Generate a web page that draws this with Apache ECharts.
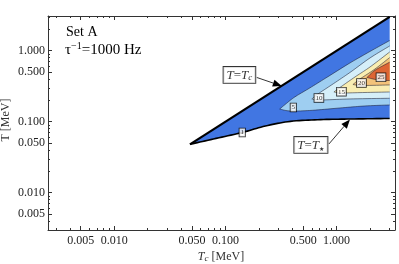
<!DOCTYPE html>
<html><head><meta charset="utf-8">
<script src="https://cdn.jsdelivr.net/npm/echarts@6/dist/echarts.min.js"></script>
<style>html,body{margin:0;padding:0;background:#fff}#c{width:399px;height:264px}</style>
</head><body><div id="c"></div>
<script>
// ---- axis ranges & ticks (Tc and T in MeV, log scale) ----
const xRange = [0.00254, 3.35];
const yRange = [0.00298, 3.08];
const xTickValues = [0.005, 0.01, 0.05, 0.1, 0.5, 1];
const xTickLabels = ['0.005', '0.010', '0.050', '0.100', '0.500', '1.000'];
const yTickValues = [0.005, 0.01, 0.05, 0.1, 0.5, 1];
const yTickLabels = ['0.005', '0.010', '0.050', '0.100', '0.500', '1.000'];
const minorTickValues = [0.003, 0.004, 0.006, 0.007, 0.008, 0.009, 0.02, 0.03, 0.04, 0.06, 0.07, 0.08, 0.09,
  0.2, 0.3, 0.4, 0.6, 0.7, 0.8, 0.9, 2, 3];

// ---- region boundaries [Tc, T] ----
const tcLine = [[0.048, 0.048], [3.0, 3.0]];
const tStarCurve = [[0.048, 0.048], [0.078, 0.057], [0.142, 0.0705], [0.229, 0.087], [0.385, 0.101],
  [0.718, 0.107], [1.34, 0.109], [3.0, 0.111]];

// ---- contour levels ----
const contourLevels = [5, 10, 15, 20, 25];
const contour5Upper = [[0.308, 0.151], [0.349, 0.1775], [0.421, 0.223], [0.574, 0.2985], [0.871, 0.448],
  [1.318, 0.671], [1.995, 0.975], [3.0, 1.39]];
const contour5Lower = [[0.308, 0.151], [0.380, 0.1415], [0.574, 0.1438], [1.071, 0.156], [1.80, 0.1665], [3.0, 0.172]];
const contour10Upper = [[0.599, 0.209], [0.679, 0.2455], [0.871, 0.318], [1.318, 0.493], [1.995, 0.789], [3.0, 1.165]];
const contour10Lower = [[0.599, 0.209], [0.707, 0.202], [1.318, 0.209], [3.0, 0.2137]];
const contour15Upper = [[0.946, 0.262], [1.071, 0.303], [1.462, 0.426], [1.995, 0.589], [3.0, 0.959]];
const contour15Lower = [[0.946, 0.262], [1.116, 0.2537], [1.80, 0.2577], [3.0, 0.262]];
const contour20Upper = [[1.402, 0.334], [1.622, 0.399], [2.213, 0.552], [3.0, 0.80]];
const contour20Lower = [[1.402, 0.334], [1.690, 0.3236], [3.0, 0.329]];
const contour25Upper = [[1.875, 0.419], [2.213, 0.530], [3.0, 0.69]];
const contour25Lower = [[1.875, 0.419], [2.355, 0.387], [3.0, 0.380]];

// contour label positions [Tc, T, text]
const contourLabels = [[0.1417, 0.0705, '1'], [0.408, 0.1585, '5'], [0.693, 0.216, '10'],
  [1.105, 0.2646, '15'], [1.673, 0.351, '20'], [2.506, 0.422, '25']];

// annotation boxes and arrows
const annotationBoxes = [[0.1337, 0.455, 'tc'], [0.587, 0.047, 'ts']];
const annotationArrows = [[0.1914, 0.4195, 0.3215, 0.318], [0.853, 0.0485, 1.318, 0.1074]];

// ---- styles ----
const baseBlue = '#4176e2';
const contourColors = ['#9ecef1', '#d5eff9', '#f9eeb2', '#f3c37a', '#dd6534'];
const contourUppers = [contour5Upper, contour10Upper, contour15Upper, contour20Upper, contour25Upper];
const contourLowers = [contour5Lower, contour10Lower, contour15Lower, contour20Lower, contour25Lower];

const L = Math.log10;
const serif = 'Liberation Serif';
const frameColor = '#333';

function pix(api, p) { return api.coord([L(p[0]), L(p[1])]); }

// Catmull-Rom rendering of a curve through pixel points (drawing only)
function smoothPath(pts, steps) {
  steps = steps || 10;
  if (pts.length < 3) return pts.slice();
  const out = [];
  for (let i = 0; i < pts.length - 1; i++) {
    const p0 = pts[Math.max(i - 1, 0)], p1 = pts[i], p2 = pts[i + 1], p3 = pts[Math.min(i + 2, pts.length - 1)];
    for (let s = 0; s < steps; s++) {
      const t = s / steps, t2 = t * t, t3 = t2 * t;
      const f = (a, b, c, d) => 0.5 * (2 * b + (-a + c) * t + (2 * a - 5 * b + 4 * c - d) * t2 + (-a + 3 * b - 3 * c + d) * t3);
      out.push([f(p0[0], p1[0], p2[0], p3[0]), f(p0[1], p1[1], p2[1], p3[1])]);
    }
  }
  out.push(pts[pts.length - 1]);
  return out;
}

function fmt(values, labels) {
  const logs = values.map(L);
  return function (v) {
    const i = logs.findIndex(t => Math.abs(t - v) < 1e-6);
    return i >= 0 ? labels[i] : '';
  };
}

function makeAxis(dim, pos, minor) {
  const range = dim === 'x' ? xRange : yRange;
  const majors = dim === 'x' ? xTickValues : yTickValues;
  const labels = dim === 'x' ? xTickLabels : yTickLabels;
  const withLabels = !minor && (pos === 'bottom' || pos === 'left');
  return {
    type: 'value', position: pos, min: L(range[0]), max: L(range[1]),
    axisLine: { show: !minor, onZero: false, lineStyle: { color: frameColor, width: 1 } },
    axisTick: {
      show: true, inside: true, length: minor ? 2 : 4,
      customValues: (minor ? minorTickValues : majors).map(L),
      lineStyle: { color: frameColor, width: 1 }
    },
    axisLabel: {
      show: withLabels, customValues: majors.map(L), formatter: fmt(majors, labels),
      fontFamily: serif, fontSize: 12, color: '#222', margin: dim === 'x' ? 5 : 3
    },
    splitLine: { show: false }
  };
}

const chart = echarts.init(document.getElementById('c'), null, { renderer: 'canvas' });

const option = {
  animation: false,
  grid: { left: 48, right: 4, top: 16, bottom: 34, outerBoundsMode: 'none' },
  xAxis: [makeAxis('x', 'bottom', false), makeAxis('x', 'bottom', true), makeAxis('x', 'top', false), makeAxis('x', 'top', true)],
  yAxis: [makeAxis('y', 'left', false), makeAxis('y', 'left', true), makeAxis('y', 'right', false), makeAxis('y', 'right', true)],
  series: [
    {
      type: 'custom', name: 'base', data: [[L(tcLine[0][0]), L(tcLine[0][1])]],
      renderItem: function (params, api) {
        const star = smoothPath(tStarCurve.map(p => pix(api, p)));
        const pts = tcLine.map(p => pix(api, p)).concat(star.reverse());
        return { type: 'polygon', shape: { points: pts }, style: { fill: baseBlue, stroke: null } };
      }
    },
    {
      type: 'custom', name: 'contours', data: contourLevels.map((lv, i) => [L(contourUppers[i][0][0]), L(contourUppers[i][0][1]), i]),
      renderItem: function (params, api) {
        const i = params.dataIndex;
        const up = smoothPath(contourUppers[i].map(p => pix(api, p)));
        const lo = smoothPath(contourLowers[i].map(p => pix(api, p)));
        const fillPts = up.concat(lo.slice().reverse());
        const linePts = up.slice().reverse().concat(lo.slice(1));
        return {
          type: 'group', children: [
            { type: 'polygon', shape: { points: fillPts }, style: { fill: contourColors[i], stroke: null } },
            { type: 'polyline', shape: { points: linePts }, style: { fill: null, stroke: 'rgba(20,20,40,0.75)', lineWidth: 0.7 } }
          ]
        };
      }
    },
    {
      type: 'custom', name: 'boundaries', data: [[0, 0]],
      renderItem: function (params, api) {
        return {
          type: 'group', children: [
            { type: 'polyline', shape: { points: tcLine.map(p => pix(api, p)) }, style: { fill: null, stroke: '#000', lineWidth: 2.2 } },
            { type: 'polyline', shape: { points: smoothPath(tStarCurve.map(p => pix(api, p))) }, style: { fill: null, stroke: '#000', lineWidth: 1.6 } }
          ]
        };
      }
    },
    {
      type: 'custom', name: 'arrows', data: annotationArrows.map(a => [L(a[0]), L(a[1])]),
      renderItem: function (params, api) {
        const a = annotationArrows[params.dataIndex];
        const p1 = api.coord([L(a[0]), L(a[1])]);
        const p2 = api.coord([L(a[2]), L(a[3])]);
        const dx = p2[0] - p1[0], dy = p2[1] - p1[1];
        const len = Math.sqrt(dx * dx + dy * dy);
        const ux = dx / len, uy = dy / len;
        const hl = 9, hw = 3.6;
        const b = [p2[0] - ux * hl, p2[1] - uy * hl];
        return {
          type: 'group', children: [
            { type: 'line', shape: { x1: p1[0], y1: p1[1], x2: b[0], y2: b[1] }, style: { stroke: '#000', lineWidth: 0.8 } },
            { type: 'polygon', shape: { points: [p2, [b[0] - uy * hw, b[1] + ux * hw], [b[0] + uy * hw, b[1] - ux * hw]] }, style: { fill: '#000' } }
          ]
        };
      }
    },
    {
      type: 'scatter', name: 'contourLabels', symbolSize: 1, itemStyle: { color: 'rgba(0,0,0,0)' },
      data: contourLabels.map(d => [L(d[0]), L(d[1]), d[2]]),
      label: {
        show: true, position: 'inside', formatter: p => p.value[2],
        fontFamily: serif, fontSize: 7, lineHeight: 7, color: '#000',
        backgroundColor: '#fff', borderColor: '#000', borderWidth: 0.8, padding: [1, 1, 0, 1]
      },
      labelLayout: { hideOverlap: false }
    },
    {
      type: 'scatter', name: 'annotations', symbolSize: 1, itemStyle: { color: 'rgba(0,0,0,0)' },
      data: annotationBoxes.map(d => [L(d[0]), L(d[1]), d[2]]),
      label: {
        show: true, position: 'inside',
        formatter: p => p.value[2] === 'tc' ? '{i|T}{n|=}{i|T}{s|c}' : '{i|T}{n|=}{i|T}{st|★}',
        backgroundColor: '#fff', borderColor: '#000', borderWidth: 0.9, padding: [1, 3, 1, 3],
        rich: {
          i: { fontFamily: serif, fontStyle: 'italic', fontSize: 13, color: '#000', lineHeight: 14, verticalAlign: 'bottom' },
          n: { fontFamily: serif, fontSize: 13, color: '#000', lineHeight: 14, verticalAlign: 'bottom' },
          s: { fontFamily: serif, fontStyle: 'italic', fontSize: 9, color: '#000', lineHeight: 14, verticalAlign: 'bottom' },
          st: { fontFamily: 'DejaVu Sans', fontSize: 6, color: '#000', lineHeight: 14, verticalAlign: 'bottom' }
        }
      },
      labelLayout: { hideOverlap: false }
    }
  ],
  graphic: [
    { type: 'text', left: 66, top: 25, style: { text: 'Set A', fontFamily: serif, fontSize: 14, fill: '#000' } },
    {
      type: 'text', left: 65, top: 41, style: {
        text: '{t|τ}{sup|−1}{t|=1000 Hz}', fill: '#000',
        rich: {
          t: { fontFamily: serif, fontSize: 15, lineHeight: 17, verticalAlign: 'bottom' },
          sup: { fontFamily: serif, fontSize: 10, lineHeight: 17, verticalAlign: 'top' }
        }
      }
    },
    { type: 'text', x: 6, y: 120, rotation: Math.PI / 2, style: { text: 'T [MeV]', fontFamily: serif, fontSize: 12, fill: '#333', align: 'center', verticalAlign: 'middle' } },
    {
      type: 'text', x: 221, y: 256, style: {
        text: '{i|T}{s|c}{n| [MeV]}', align: 'center', verticalAlign: 'middle', fill: '#333',
        rich: {
          i: { fontFamily: serif, fontStyle: 'italic', fontSize: 12, lineHeight: 14, verticalAlign: 'bottom' },
          s: { fontFamily: serif, fontStyle: 'italic', fontSize: 9, lineHeight: 14, verticalAlign: 'bottom' },
          n: { fontFamily: serif, fontSize: 12, lineHeight: 14, verticalAlign: 'bottom' }
        }
      }
    }
  ]
};
chart.setOption(option);
</script></body></html>
